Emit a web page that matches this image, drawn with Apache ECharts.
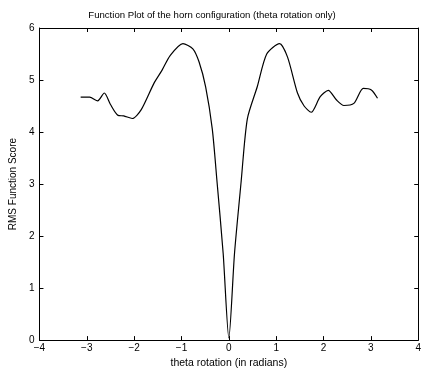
<!DOCTYPE html>
<html><head><meta charset="utf-8">
<script src="https://cdn.jsdelivr.net/npm/echarts@6/dist/echarts.min.js"></script>
<style>html,body{margin:0;padding:0;background:#fff}#c{width:424px;height:374px}</style>
</head><body><div id="c"></div>
<script>
var thetaValues = [-3.13,-2.94,-2.77,-2.63,-2.50,-2.34,-2.22,-2.04,-1.85,-1.58,-1.41,-1.24,-0.97,-0.76,-0.63,-0.49,-0.35,-0.25,-0.12,0,0.12,0.26,0.39,0.60,0.80,1.07,1.24,1.45,1.59,1.74,1.93,2.10,2.27,2.43,2.64,2.84,3.01,3.14];
var rmsScores = [4.67,4.67,4.60,4.75,4.53,4.32,4.31,4.26,4.43,4.94,5.19,5.47,5.70,5.60,5.35,4.87,4.06,3.05,1.67,0.04,1.67,3.05,4.25,4.87,5.50,5.70,5.44,4.75,4.50,4.38,4.68,4.80,4.62,4.51,4.55,4.84,4.81,4.65];
var titleText = 'Function Plot of the horn configuration (theta rotation only)';
var xName = 'theta rotation (in radians)';
var yName = 'RMS Function Score';

var pts = thetaValues.map(function(x,i){return [x, rmsScores[i]];});
var font = 'Liberation Sans, Arial, sans-serif';
var lbl = {color:'#000', fontSize:10, fontFamily:font};
var ax = {onZero:false, lineStyle:{color:'#000', width:1}};
var tk = {inside:true, length:4, lineStyle:{color:'#000'}};
var chart = echarts.init(document.getElementById('c'));
chart.setOption({
  animation:false,
  title:{text:titleText, left:'center', top:5, textStyle:{fontSize:9.6, fontWeight:'normal', color:'#000', fontFamily:font}},
  grid:{left:28, right:4, top:28, bottom:29},
  xAxis:[
    {type:'value', min:-4, max:4, interval:1, position:'bottom', axisLine:ax, axisTick:tk,
     axisLabel:Object.assign({formatter:function(v){return v<0?'\u2212'+(-v):String(v);}, margin:3}, lbl), splitLine:{show:false},
     name:xName, nameLocation:'middle', nameGap:16, nameTextStyle:{color:'#000', fontSize:10.5, fontFamily:font}},
    {type:'value', min:-4, max:4, interval:1, position:'top', axisLine:ax, axisTick:tk, axisLabel:{show:false}, splitLine:{show:false}}
  ],
  yAxis:[
    {type:'value', min:0, max:6, interval:1, position:'left', axisLine:ax, axisTick:tk,
     axisLabel:Object.assign({margin:5}, lbl), splitLine:{show:false},
     name:yName, nameLocation:'middle', nameGap:14, nameRotate:90, nameTextStyle:{color:'#000', fontSize:10, fontFamily:font}},
    {type:'value', min:0, max:6, interval:1, position:'right', axisLine:ax, axisTick:tk, axisLabel:{show:false}, splitLine:{show:false}}
  ],
  series:[{type:'line', data:pts, xAxisIndex:0, yAxisIndex:0, showSymbol:false, smooth:0.25,
    lineStyle:{color:'#000', width:1.2}}]
});
</script></body></html>
